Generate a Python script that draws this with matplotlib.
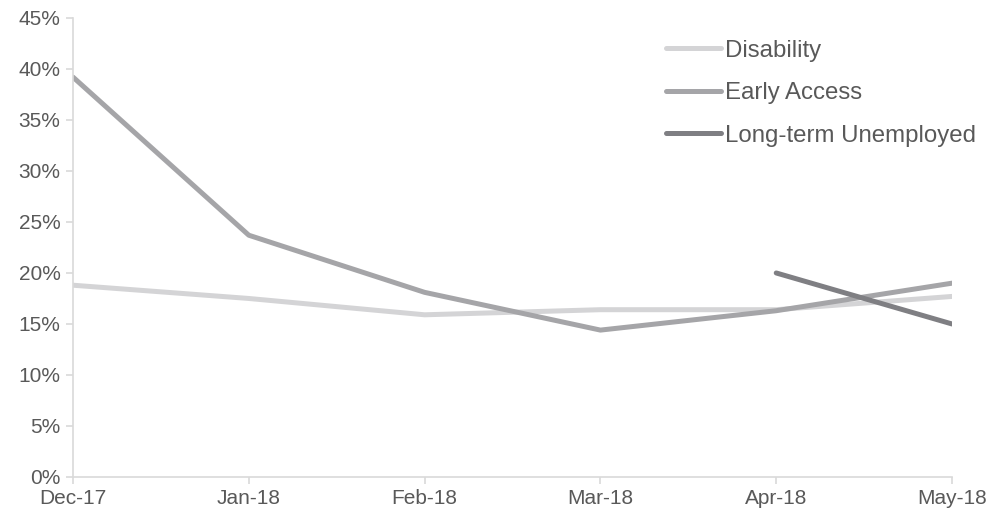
import numpy as np
import matplotlib.pyplot as plt
from matplotlib.ticker import PercentFormatter

plt.rcParams['font.family'] = ['Liberation Sans', 'DejaVu Sans']

months = ["Dec-17", "Jan-18", "Feb-18", "Mar-18", "Apr-18", "May-18"]
disability = [18.8, 17.5, 15.9, 16.4, 16.4, 17.7]
early_access = [39.2, 23.7, 18.1, 14.4, 16.3, 19.0]
long_term = [np.nan, np.nan, np.nan, np.nan, 20.0, 15.0]

text_col = "#595959"
axis_col = "#d9d9d9"

fig = plt.figure(figsize=(9.88, 5.13), dpi=100)
ax = fig.add_axes([0.0739, 0.0702, 0.8897, 0.8948])

x = np.arange(len(months))
ax.plot(x, disability, color="#d4d4d6", lw=3.6, solid_capstyle="round", label="Disability")
ax.plot(x, early_access, color="#a5a5a8", lw=3.6, solid_capstyle="round", label="Early Access")
ax.plot(x, long_term, color="#7f7f83", lw=3.6, solid_capstyle="round", label="Long-term Unemployed")

ax.set_xlim(0, len(months) - 1)
ax.set_ylim(0, 45)
ax.set_yticks(np.arange(0, 46, 5))
ax.yaxis.set_major_formatter(PercentFormatter(decimals=0))
ax.set_xticks(x)
ax.set_xticklabels(months)

for s in ["top", "right"]:
    ax.spines[s].set_visible(False)
for s in ["left", "bottom"]:
    ax.spines[s].set_color(axis_col)
    ax.spines[s].set_linewidth(1.2)
ax.tick_params(axis="both", colors=axis_col, labelcolor=text_col, labelsize=15, length=5, width=1.2)
ax.tick_params(axis="x", pad=4)
ax.tick_params(axis="y", pad=4)

leg = ax.legend(loc="upper left", bbox_to_anchor=(0.65, 1.0), frameon=False, fontsize=17.3,
                handlelength=2.3, handletextpad=0.15, labelspacing=0.86, labelcolor=text_col)

fig.savefig("out.png", dpi=100)
